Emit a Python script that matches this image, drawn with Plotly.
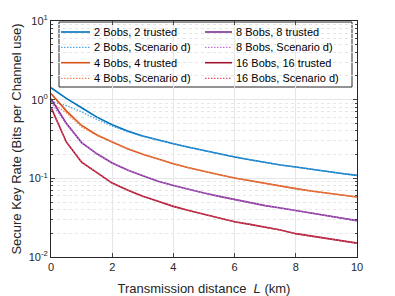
import plotly.graph_objects as go

L = [0, 0.5, 1, 1.5, 2, 2.5, 3, 3.5, 4, 4.5, 5, 5.5, 6, 6.5, 7, 7.5, 8, 8.5, 9, 9.5, 10]

bobs2_trusted = [1.42, 1.04, 0.79, 0.60, 0.48, 0.40, 0.345, 0.305, 0.275, 0.248, 0.225, 0.205,
                 0.187, 0.172, 0.159, 0.148, 0.139, 0.130, 0.122, 0.115, 0.109]
bobs2_scen_d = [0.95, 0.84, 0.70, 0.56, 0.46, 0.39, 0.34, 0.305, 0.275, 0.248, 0.225, 0.205,
                0.187, 0.172, 0.159, 0.148, 0.139, 0.130, 0.122, 0.115, 0.109]
bobs4_trusted = [1.20, 0.72, 0.47, 0.355, 0.29, 0.237, 0.202, 0.175, 0.153, 0.136, 0.122, 0.111,
                 0.101, 0.093, 0.086, 0.080, 0.074, 0.069, 0.065, 0.061, 0.058]
bobs4_scen_d = [0.93, 0.68, 0.45, 0.35, 0.29, 0.237, 0.202, 0.175, 0.153, 0.136, 0.122, 0.111,
                0.101, 0.093, 0.086, 0.080, 0.074, 0.069, 0.065, 0.061, 0.058]
bobs8_trusted = [1.03, 0.50, 0.285, 0.205, 0.157, 0.128, 0.108, 0.092, 0.081, 0.072, 0.065, 0.059,
                 0.054, 0.049, 0.045, 0.042, 0.039, 0.036, 0.034, 0.031, 0.029]
bobs8_scen_d = [0.92, 0.49, 0.285, 0.205, 0.157, 0.128, 0.108, 0.092, 0.081, 0.072, 0.065, 0.059,
                0.054, 0.049, 0.045, 0.042, 0.039, 0.036, 0.034, 0.031, 0.029]
bobs16_trusted = [0.80, 0.29, 0.160, 0.117, 0.087, 0.071, 0.059, 0.051, 0.044, 0.039, 0.035, 0.031,
                  0.028, 0.026, 0.024, 0.022, 0.0198, 0.0185, 0.0172, 0.016, 0.015]
bobs16_scen_d = [0.78, 0.29, 0.160, 0.117, 0.087, 0.071, 0.059, 0.051, 0.044, 0.039, 0.035, 0.031,
                 0.028, 0.026, 0.024, 0.022, 0.0198, 0.0185, 0.0172, 0.016, 0.015]

names = ["2 Bobs, 2 trusted", "2 Bobs, Scenario d)", "4 Bobs, 4 trusted", "4 Bobs, Scenario d)",
         "8 Bobs, 8 trusted", "8 Bobs, Scenario d)", "16 Bobs, 16 trusted", "16 Bobs, Scenario d)"]
series = [bobs2_trusted, bobs2_scen_d, bobs4_trusted, bobs4_scen_d,
          bobs8_trusted, bobs8_scen_d, bobs16_trusted, bobs16_scen_d]
colors = ["#0072BD", "#4DA6E6", "#D95319", "#F08A5A", "#7E2F8E", "#C070D8", "#A2142F", "#E0506A"]
dashes = ["solid", "dot"] * 4

y_tickvals = [0.01, 0.1, 1, 10]
y_ticktext = ["10<sup>-2</sup>", "10<sup>-1</sup>", "10<sup>0</sup>", "10<sup>1</sup>"]
x_tickvals = [0, 2, 4, 6, 8, 10]

minor_vals = [m * d for d in [0.01, 0.1, 1] for m in range(2, 10)]

def line_style(c, d):
    if d == "solid":
        return dict(color=c, width=1.6, dash="solid")
    return dict(color=c, width=1.3, dash="1.5px,1.5px")

fig = go.Figure()
for n, s, c, d in zip(names, series, colors, dashes):
    fig.add_trace(go.Scatter(x=L, y=s, mode="lines", name=n, showlegend=False,
                             line=line_style(c, d)))

# plot area in pixels: x 51..357, y 21..257
PL, PW, PT, PH = 51, 306, 21, 236
def px(x):
    return (x - PL) / PW
def py(y):
    return 1 - (y - PT) / PH

shapes = [dict(type="rect", xref="paper", yref="paper",
               x0=px(59), x1=px(352), y0=py(87), y1=py(22),
               line=dict(color="#262626", width=1), fillcolor="white", layer="between")]
annotations = []
rows = [32, 47.3, 62.7, 78.3]
cols = [(61, 90, 91.5), (205, 232, 233.5)]
for i, (n, c, d) in enumerate(zip(names, colors, dashes)):
    col = cols[i // 4]
    yy = rows[i % 4]
    shapes.append(dict(type="line", xref="paper", yref="paper",
                       x0=px(col[0]), x1=px(col[1]), y0=py(yy), y1=py(yy),
                       line=line_style(c, d), layer="above"))
    annotations.append(dict(text=n, xref="paper", yref="paper", x=px(col[2]), y=py(yy),
                            xanchor="left", yanchor="middle", showarrow=False,
                            font=dict(size=11, color="#000000")))

font = dict(family="Liberation Sans, Arial, sans-serif", size=11, color="#262626")

fig.update_layout(
    width=395, height=296,
    margin=dict(l=51, r=38, t=21, b=39, autoexpand=False),
    paper_bgcolor="white", plot_bgcolor="white",
    font=font,
    shapes=shapes, annotations=annotations,
)

fig.update_xaxes(range=[0, 10], tickvals=x_tickvals, ticks="inside", ticklen=4,
                 showline=True, linecolor="#262626", linewidth=1, mirror="ticks",
                 showgrid=True, gridcolor="#E6E6E6", gridwidth=1, zeroline=False,
                 automargin=False,
                 title=dict(text="Transmission distance  <i>L</i> (km)"),
                 tickfont=dict(size=11))
fig.update_yaxes(type="log", range=[-2, 1], tickvals=y_tickvals, ticktext=y_ticktext,
                 ticks="inside", ticklen=4,
                 showline=True, linecolor="#262626", linewidth=1, mirror="ticks",
                 showgrid=True, gridcolor="#E6E6E6", gridwidth=1, zeroline=False,
                 automargin=False,
                 minor=dict(tickvals=minor_vals, ticks="inside", ticklen=2, showgrid=True,
                            gridcolor="#E6E6E6", griddash="dot", gridwidth=1),
                 title=dict(text="Secure Key Rate (Bits per Channel use)", standoff=4),
                 tickfont=dict(size=11))

fig.write_html("out.html", config={"displayModeBar": False},
               post_script="document.body.style.margin='0';document.body.style.overflow='hidden';")
